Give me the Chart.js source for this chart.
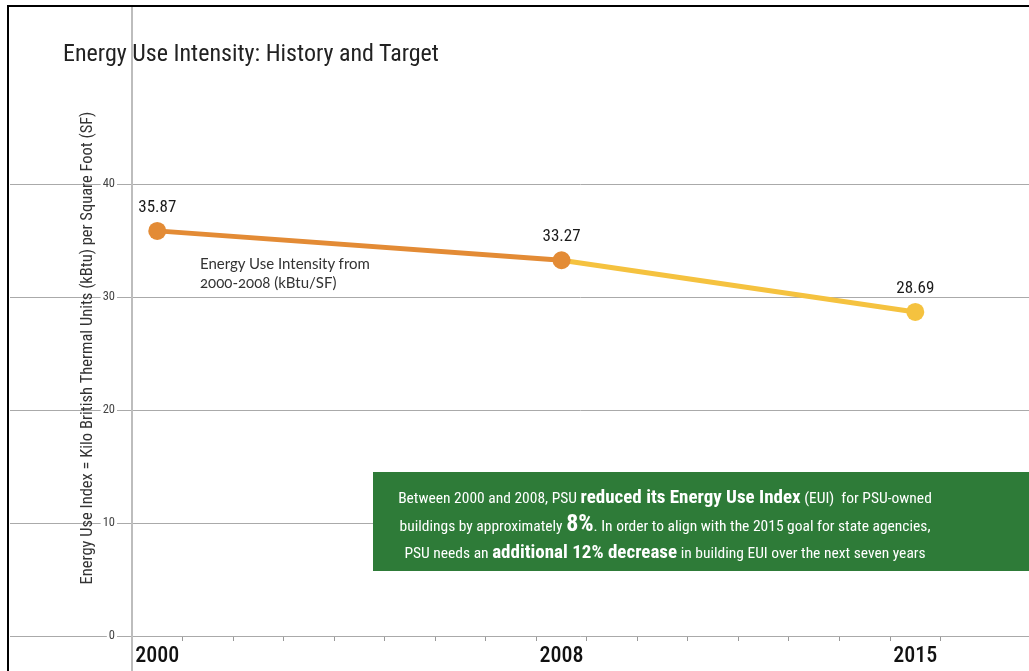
<!DOCTYPE html>
<html>
<head>
<meta charset="utf-8">
<script src="https://cdn.jsdelivr.net/npm/chart.js@4.4.0/dist/chart.umd.min.js"></script>
<style>
  html, body { margin: 0; padding: 0; background: #fff; }
  #wrap { position: relative; width: 1029px; height: 671px; overflow: hidden; }
  canvas { position: absolute; left: 0; top: 0; }
  .narrow { font-family: 'Roboto Condensed', 'Liberation Sans Narrow', 'DejaVu Sans Condensed', sans-serif; }
  #frame { position: absolute; left: 7px; top: 5px; width: 1040px; height: 700px;
           border-left: 2px solid #000; border-top: 2px solid #000; pointer-events: none; }
  #title { position: absolute; left: 63px; top: 39px; font-size: 24px; line-height: 28px; color: #222; white-space: nowrap; }
  #note { position: absolute; left: 200px; top: 254px; font-family: Lato, 'Open Sans', sans-serif;
          font-size: 15px; line-height: 19px; color: #333; font-variant-numeric: oldstyle-nums; }
  #box { position: absolute; left: 373px; top: 472px; width: 656px; height: 99px; background: #2E7B38; }
  #boxtext { position: absolute; left: 373px; top: 484px; width: 584px; text-align: center;
             color: #fff; font-size: 15.5px; line-height: 25px; white-space: nowrap; }
  #boxtext b { font-size: 19px; }
  #boxtext b.big { font-size: 24px; }
</style>
</head>
<body>
<div id="wrap">
  <canvas id="c" width="1029" height="671"></canvas>
  <div id="frame"></div>
  <div id="title" class="narrow">Energy Use Intensity: History and Target</div>
  <div id="note">Energy Use Intensity from<br>2000-2008 (kBtu/SF)</div>
  <div id="box"></div>
  <div id="boxtext" class="narrow">Between 2000 and 2008, PSU <b>reduced its Energy Use Index</b> (EUI)&nbsp; for PSU-owned<br>buildings by approximately <b class="big">8%</b>. In order to align with the 2015 goal for state agencies,<br>PSU needs an <b>additional 12% decrease</b> in building EUI over the next seven years</div>
</div>
<script>
// ---- data ----
const years = [2000, 2008, 2015];
const eui = [35.87, 33.27, 28.69];
const yTicks = [0, 10, 20, 30, 40];
const xTickLabels = [2000, 2008, 2015];
const yAxisTitle = 'Energy Use Index = Kilo British Thermal Units (kBtu) per Square Foot (SF)';

const ORANGE = '#E38B35';
const YELLOW = '#F5C23F';
const NARROW = "'Roboto Condensed', 'Liberation Sans Narrow', 'DejaVu Sans Condensed', sans-serif";

// minor tick marks at year boundaries
const minorTicks = [];
for (let y = xTickLabels[0]; y <= xTickLabels[xTickLabels.length - 1]; y++) minorTicks.push(y + 0.5);

const axisLine = {
  id: 'axisLine',
  beforeDatasetsDraw(chart) {
    const ctx = chart.ctx;
    const x = chart.chartArea.left;
    ctx.save();
    ctx.strokeStyle = '#bdbdbd';
    ctx.lineWidth = 2;
    ctx.beginPath();
    ctx.moveTo(x, 7);
    ctx.lineTo(x, chart.height);
    ctx.stroke();
    ctx.restore();
  }
};

const valueLabels = {
  id: 'valueLabels',
  afterDatasetsDraw(chart) {
    const ctx = chart.ctx;
    const meta = chart.getDatasetMeta(0);
    ctx.save();
    ctx.font = '17px ' + NARROW;
    ctx.fillStyle = '#1a1a1a';
    ctx.textAlign = 'center';
    ctx.textBaseline = 'middle';
    meta.data.forEach((pt, i) => {
      ctx.fillText(eui[i].toFixed(2), pt.x, pt.y - 23);
    });
    ctx.restore();
  }
};

new Chart(document.getElementById('c'), {
  type: 'line',
  data: {
    datasets: [{
      data: years.map((y, i) => ({ x: y, y: eui[i] })),
      borderWidth: 5,
      borderColor: ORANGE,
      segment: {
        borderColor: ctx => ctx.p0DataIndex === 0 ? ORANGE : YELLOW
      },
      pointRadius: 9,
      pointHoverRadius: 9,
      pointBorderWidth: 0,
      pointBackgroundColor: [ORANGE, ORANGE, YELLOW],
      tension: 0
    }]
  },
  options: {
    responsive: false,
    animation: false,
    devicePixelRatio: 1,
    layout: { autoPadding: false, padding: { top: 60, left: 0, right: 0, bottom: 0 } },
    plugins: { legend: { display: false }, tooltip: { enabled: false } },
    events: [],
    scales: {
      x: {
        type: 'linear',
        min: 1999.5,
        max: 2017.25,
        afterBuildTicks: s => {
          const all = xTickLabels.concat(minorTicks).sort((a, b) => a - b);
          s.ticks = all.map(v => ({ value: v }));
        },
        afterFit: s => { s.height = 35; s.paddingLeft = 0; s.paddingRight = 0; },
        border: { display: false },
        grid: {
          drawOnChartArea: false,
          drawTicks: true,
          tickLength: 5,
          tickColor: c => (c.tick && xTickLabels.includes(c.tick.value)) ? 'rgba(0,0,0,0)' : '#999',
          lineWidth: 1
        },
        ticks: {
          autoSkip: false,
          maxRotation: 0,
          padding: 2,
          color: '#111',
          font: { family: NARROW, size: 22, weight: '500' },
          callback: v => xTickLabels.includes(v) ? String(v) : ''
        }
      },
      y: {
        type: 'linear',
        min: 0,
        max: 51,
        afterBuildTicks: s => { s.ticks = yTicks.map(v => ({ value: v })); },
        afterFit: s => { s.width = 132; s.paddingTop = 0; s.paddingBottom = 0; },
        border: { display: false },
        grid: {
          color: '#aaa',
          lineWidth: 1,
          drawTicks: true,
          tickLength: 122
        },
        ticks: {
          padding: -105,
          color: '#444',
          font: { family: NARROW, size: 12.5 },
          showLabelBackdrop: true,
          backdropColor: '#fff',
          backdropPadding: { x: 2, y: 0 }
        },
        title: {
          display: true,
          text: yAxisTitle,
          color: '#333',
          font: { family: NARROW, size: 16.5 },
          padding: { top: 78, bottom: 0 }
        }
      }
    }
  },
  plugins: [axisLine, valueLabels]
});
</script>
</body>
</html>
